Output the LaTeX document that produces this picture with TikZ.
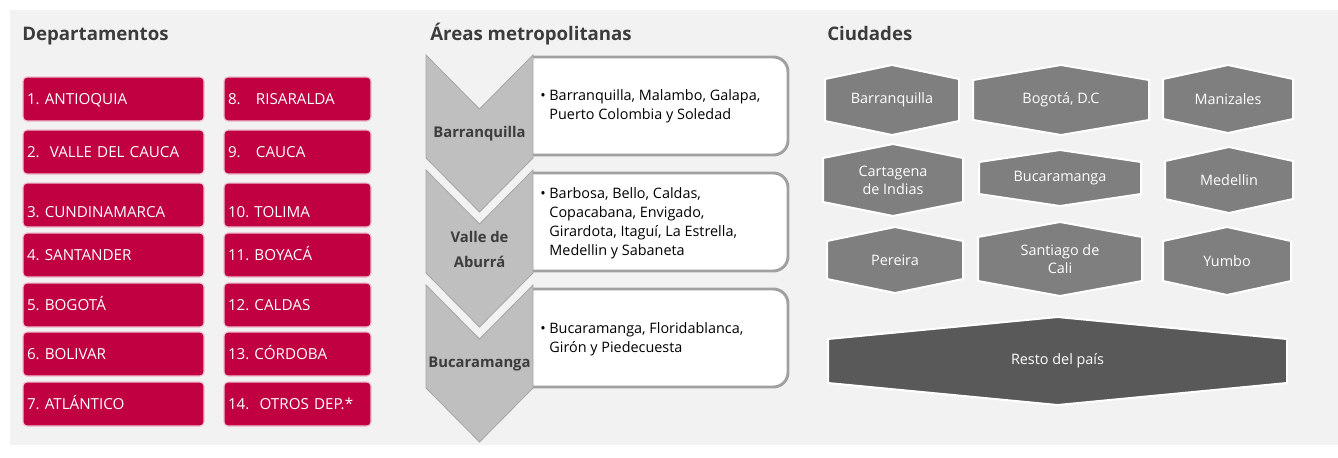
\documentclass[tikz,border=0pt]{standalone}
\usepackage{fontspec}
\setmainfont{Open Sans}
\usepackage{xcolor}
\usepackage{tikz}
\frenchspacing

\definecolor{deptred}{RGB}{192,0,64}
\definecolor{panelgray}{RGB}{242,242,242}
\definecolor{chevgray}{RGB}{191,191,191}
\definecolor{chevline}{RGB}{166,166,166}
\definecolor{boxline}{RGB}{160,160,160}
\definecolor{citygray}{RGB}{127,127,127}
\definecolor{restgray}{RGB}{89,89,89}
\definecolor{titlegray}{RGB}{60,60,60}

\begin{document}
\begin{tikzpicture}[x=0.75pt, y=-0.75pt,
        title/.style={anchor=base west, inner sep=0pt, text=titlegray, font=\bfseries\fontsize{14}{16}\selectfont},
        dept/.style={rectangle, rounded corners=3pt, fill=deptred, draw=deptred!25, line width=0.8pt,
          minimum height=33pt, inner sep=3pt, align=left, text=white,
          text height=8.1pt, text depth=0pt, font=\fontsize{11.4}{13}\selectfont},
        deptl/.style={dept, minimum width=135.75pt, text width=129.75pt},
        deptr/.style={dept, minimum width=110.25pt, text width=104.25pt},
        low/.style={text height=18.1pt},
        area/.style={fill=white, draw=boxline, line width=2.2pt, rounded corners=11pt},
        areatext/.style={anchor=west, inner sep=0pt, font=\fontsize{10.8}{14.25}\selectfont},
        chev/.style={fill=chevgray, draw=chevline, line width=0.6pt},
        chevtext/.style={align=center, inner sep=0pt, text=titlegray, font=\bfseries\fontsize{11.1}{18.7}\selectfont},
        city/.style={fill=citygray, draw=white, line width=1.5pt},
        citytext/.style={align=center, inner sep=0pt, text=white, font=\fontsize{10.8}{13.5}\selectfont}]

        \useasboundingbox (0,0) rectangle (1338,457);
        \fill[panelgray] (10,10) rectangle (1338,445);

        % titles
        \node[title] (tdep) at (22,40) {Departamentos};
        \node[title] (tarea) at (430,40) {Áreas metropolitanas};
        \node[title] (tcity) at (827,40) {Ciudades};

        % departamentos
        \node[deptl] (d1) at (113.5,99) {1. ANTIOQUIA};
        \node[deptl] (d2) at (113.5,152) {2.\ \ VALLE DEL CAUCA};
        \node[deptl, low] (d3) at (113.5,205) {3. CUNDINAMARCA};
        \node[deptl] (d4) at (113.5,255) {4. SANTANDER};
        \node[deptl] (d5) at (113.5,305) {5. BOGOTÁ};
        \node[deptl] (d6) at (113.5,354) {6. BOLIVAR};
        \node[deptl] (d7) at (113.5,404) {7. ATLÁNTICO};
        \node[deptr] (d8) at (297.5,99) {8.\ \ \ RISARALDA};
        \node[deptr] (d9) at (297.5,152) {9.\ \ \ CAUCA};
        \node[deptr, low] (d10) at (297.5,205) {10. TOLIMA};
        \node[deptr] (d11) at (297.5,255) {11. BOYACÁ};
        \node[deptr] (d12) at (297.5,305) {12. CALDAS};
        \node[deptr] (d13) at (297.5,354) {13. CÓRDOBA};
        \node[deptr] (d14) at (297.5,404) {14.\ \ OTROS DEP.*};

        % areas metropolitanas
        \foreach \t in {57,173,289}
          \filldraw[area] (533,\t) -- (788,\t) -- (788,\t+98) -- (533,\t+98);
        \foreach \i/\t/\lab in {1/55/Barranquilla, 2/170/{Valle de\\Aburrá}, 3/285/Bucaramanga} {
          \filldraw[chev] (426,\t) -- (479.5,\t+54) -- (533,\t) -- (533,\t+103)
            -- (479.5,\t+157) -- (426,\t+103) -- cycle;
          \node[chevtext] (ch\i) at (479.5,\t+79) {\lab};
        }
        \node[areatext] (a1) at (540,106) {\textbullet\ \begin{tabular}[t]{@{}l@{}}Barranquilla, Malambo, Galapa,\\
          Puerto Colombia y Soledad\end{tabular}};
        \node[areatext] (a2) at (540,223) {\textbullet\ \begin{tabular}[t]{@{}l@{}}Barbosa, Bello, Caldas,\\
          Copacabana, Envigado,\\ Girardota, Itaguí, La Estrella,\\ Medellin y Sabaneta\end{tabular}};
        \node[areatext] (a3) at (540,339) {\textbullet\ \begin{tabular}[t]{@{}l@{}}Bucaramanga, Floridablanca,\\
          Girón y Piedecuesta\end{tabular}};

        % ciudades
        \foreach \n/\cx/\cy/\hw/\hh/\tp/\lab in {
            bq/892/100/67/35/14/Barranquilla, bo/1061/100/88/35/15/{Bogotá, D.C}, mz/1228/99/65/34/14/Manizales,
            ct/893/180/70/36/14/{Cartagena\\de Indias}, bu/1060/178/81/28/12/Bucaramanga, md/1229/180/64/33/14/Medellin,
            pe/895/260/68/33/14/Pereira, sc/1060/259/82/37/15/{Santiago de\\Cali}, yu/1227/261/64/34/14/Yumbo} {
          \filldraw[city] (\cx-\hw,\cy-\hh+\tp) -- (\cx,\cy-\hh) -- (\cx+\hw,\cy-\hh+\tp) -- (\cx+\hw,\cy+\hh-\tp)
            -- (\cx,\cy+\hh) -- (\cx-\hw,\cy+\hh-\tp) -- cycle;
          \node[citytext] (\n) at (\cx,\cy) {\lab};
        }
        \filldraw[city, fill=restgray] (828,339) -- (1057.5,317) -- (1287,339) -- (1287,383) -- (1057.5,405) -- (828,383) -- cycle;
        \node[citytext] (resto) at (1057.5,361) {Resto del país};
\end{tikzpicture}
\end{document}
